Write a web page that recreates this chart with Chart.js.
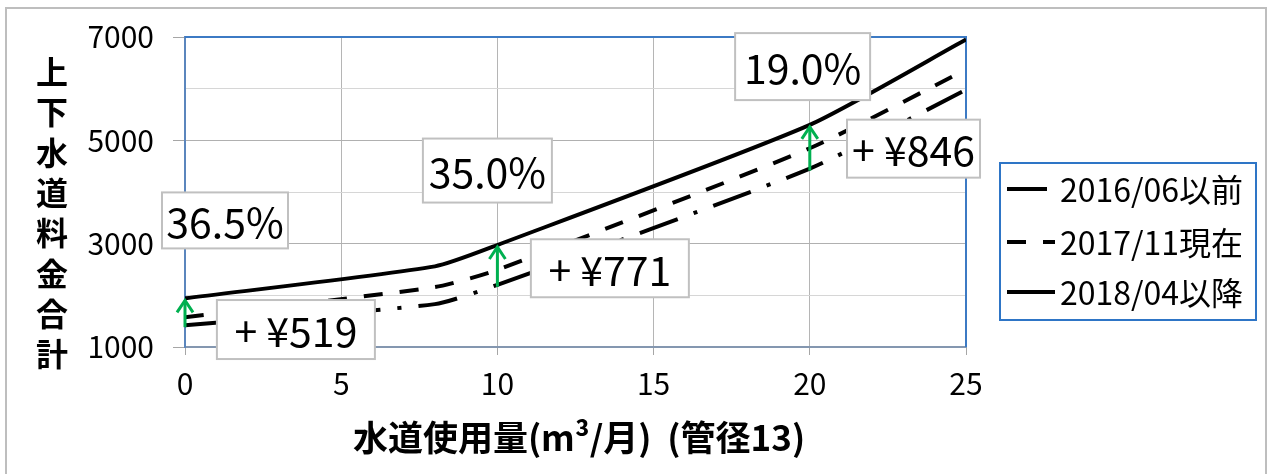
<!DOCTYPE html>
<html>
<head>
  <meta charset="utf-8">
  <title>上下水道料金合計</title>
  <script src="https://cdn.jsdelivr.net/npm/chart.js@4"></script>
  <style>
    body { margin: 0; background: #fff; }
    #wrap { width: 1268px; height: 474px; }
  </style>
</head>
<body>
  <div id="wrap"><canvas id="feeChart" width="1268" height="474"></canvas></div>
  <script>
    // water usage (m3/month) and monthly fee per period
    var usage = [0, 8, 10, 20, 25];
    var fee2016 = [1422, 1830, 2203, 4453, 5980];
    var fee2017 = [1575, 2160, 2495, 4847, 6370];
    var fee2018 = [1941, 2560, 2974, 5299, 6950];
    var seriesNames = ['2016/06以前', '2017/11現在', '2018/04以降'];
    var yLabelTicks = [1000, 3000, 5000, 7000];

    // arrows + call-out labels
    var arrowAt = [0, 10, 20];
    var pctLabels = ['36.5%', '35.0%', '19.0%'];
    var yenLabels = ['+ ¥519', '+ ¥771', '+ ¥846'];

    var xTitle = '水道使用量(m³/月)  (管径13)';
    var yTitle = '上下水道料金合計';

    var font = '"Noto Sans CJK JP", sans-serif';
    Chart.defaults.font.family = font;
    Chart.defaults.color = '#000';

    // where the call-out boxes sit, in data units, box size in px
    var pctBoxes = [
      { x: 1.28, y: 3450, w: 126, h: 56 },
      { x: 9.68, y: 4415, w: 129, h: 64 },
      { x: 19.77, y: 6427, w: 135, h: 67 }
    ];
    var yenBoxes = [
      { x: 3.55, y: 1338, w: 158, h: 59 },
      { x: 13.6, y: 2524, w: 158, h: 58 },
      { x: 23.32, y: 4839, w: 133, h: 58 }
    ];
    var dashes = [[40, 17, 4, 17], [19, 17], []];

    function toPoints(ys) {
      return usage.map(function (x, i) { return { x: x, y: ys[i] }; });
    }

    var decor = {
      id: 'decor',
      beforeDraw: function (chart) {
        var ctx = chart.ctx;
        ctx.save();
        ctx.fillStyle = '#fff';
        ctx.fillRect(0, 0, chart.width, chart.height);
        ctx.strokeStyle = '#bebebe';
        ctx.lineWidth = 2;
        ctx.strokeRect(6, 8, 1260, 480);
        ctx.restore();
      },
      beforeDatasetsDraw: function (chart) {
        var ctx = chart.ctx, a = chart.chartArea;
        ctx.save();
        ctx.strokeStyle = '#3c7ac4';
        ctx.lineWidth = 2;
        ctx.beginPath();
        ctx.moveTo(a.left, a.top);
        ctx.lineTo(a.right, a.top);
        ctx.lineTo(a.right, a.bottom);
        ctx.stroke();
        ctx.restore();
      },
      afterDatasetsDraw: function (chart) {
        var ctx = chart.ctx;
        var xs = chart.scales.x, ys = chart.scales.y;
        ctx.save();

        // green arrows from old fee to new fee
        ctx.strokeStyle = '#00b050';
        ctx.lineWidth = 3;
        arrowAt.forEach(function (xv) {
          var i = usage.indexOf(xv);
          var px = xs.getPixelForValue(xv);
          var y0 = ys.getPixelForValue(fee2016[i]) + 2;
          var y1 = ys.getPixelForValue(fee2018[i]) + 2;
          ctx.beginPath();
          ctx.moveTo(px, y0);
          ctx.lineTo(px, y1);
          ctx.stroke();
          ctx.beginPath();
          ctx.moveTo(px - 8, y1 + 12);
          ctx.lineTo(px, y1);
          ctx.lineTo(px + 8, y1 + 12);
          ctx.stroke();
        });

        function box(label, b) {
          var cx = xs.getPixelForValue(b.x), cy = ys.getPixelForValue(b.y);
          ctx.fillStyle = '#fff';
          ctx.fillRect(cx - b.w / 2, cy - b.h / 2, b.w, b.h);
          ctx.strokeStyle = '#c0c0c0';
          ctx.lineWidth = 2;
          ctx.strokeRect(cx - b.w / 2, cy - b.h / 2, b.w, b.h);
          ctx.fillStyle = '#000';
          ctx.font = '41px ' + font;
          ctx.textAlign = 'center';
          ctx.textBaseline = 'alphabetic';
          ctx.fillText(label, cx, cy + 4 + 0.33 * 41);
        }
        pctLabels.forEach(function (t, i) { box(t, pctBoxes[i]); });
        yenLabels.forEach(function (t, i) { box(t, yenBoxes[i]); });

        // legend
        ctx.fillStyle = '#fff';
        ctx.fillRect(1000, 163, 256, 157);
        ctx.strokeStyle = '#2e75c6';
        ctx.lineWidth = 2;
        ctx.strokeRect(1000, 163, 256, 157);
        var rowY = [189, 242, 292];
        seriesNames.forEach(function (name, i) {
          ctx.strokeStyle = '#000';
          ctx.lineWidth = 4;
          ctx.setLineDash(dashes[i]);
          ctx.beginPath();
          ctx.moveTo(1007, rowY[i]);
          ctx.lineTo(1055, rowY[i]);
          ctx.stroke();
          ctx.setLineDash([]);
          ctx.fillStyle = '#000';
          ctx.font = '32px ' + font;
          ctx.textAlign = 'left';
          ctx.textBaseline = 'middle';
          ctx.fillText(name, 1060, rowY[i] + 1);
        });

        // axis titles
        ctx.font = 'bold 32px ' + font;
        ctx.textAlign = 'center';
        ctx.textBaseline = 'middle';
        Array.from(yTitle).forEach(function (ch, i) {
          ctx.fillText(ch, 52, 72 + i * 40.3);
        });
        ctx.font = 'bold 35px ' + font;
        ctx.fillText(xTitle, 579, 438);
        ctx.restore();
      }
    };

    var ctx = document.getElementById('feeChart').getContext('2d');
    var chart = new Chart(ctx, {
      type: 'line',
      data: {
        datasets: [
          { label: seriesNames[0], data: toPoints(fee2016), borderDash: dashes[0] },
          { label: seriesNames[1], data: toPoints(fee2017), borderDash: dashes[1] },
          { label: seriesNames[2], data: toPoints(fee2018), borderDash: dashes[2] }
        ]
      },
      options: {
        responsive: false,
        animation: false,
        layout: { padding: { top: 30, right: 302, left: 0, bottom: 0 } },
        elements: {
          line: { borderColor: '#000', borderWidth: 4, tension: 0.2, fill: false, borderCapStyle: 'butt' },
          point: { radius: 0, hoverRadius: 0 }
        },
        plugins: { legend: { display: false }, tooltip: { enabled: false } },
        scales: {
          x: {
            type: 'linear', min: 0, max: 25,
            ticks: { stepSize: 5, padding: 11, autoSkip: false, maxRotation: 0, font: { size: 30 } },
            grid: { color: '#b5b5b5', tickLength: 8, tickColor: '#a6a6a6' },
            border: { color: '#8497b0', width: 2 },
            afterFit: function (s) { s.height = 127; }
          },
          y: {
            min: 1000, max: 7000,
            ticks: {
              stepSize: 1000, padding: 19, autoSkip: false, font: { size: 30 },
              callback: function (v) { return yLabelTicks.indexOf(v) >= 0 ? v : ''; }
            },
            grid: {
              tickLength: 12,
              color: function (c) { return yLabelTicks.indexOf(c.tick.value) >= 0 ? '#b0b0b0' : '#d6d6d6'; },
              tickColor: function (c) { return yLabelTicks.indexOf(c.tick.value) >= 0 ? '#a6a6a6' : 'rgba(0,0,0,0)'; }
            },
            border: { color: '#5b86bd', width: 2 },
            afterFit: function (s) { s.width = 185; }
          }
        }
      },
      plugins: [decor]
    });
  </script>
</body>
</html>
